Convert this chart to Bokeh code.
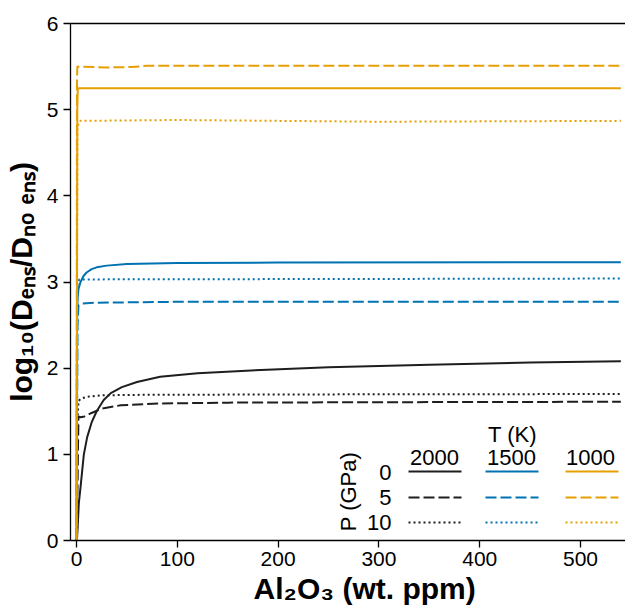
import math
from bokeh.plotting import figure
from bokeh.models import Label, LinearAxis, FixedTicker, Range1d
from bokeh.embed import file_html
from bokeh.resources import INLINE

# ---------------- data ----------------
# T = 2000 K
x_2000_p0 = [0, 0.5, 1, 2.3, 4, 7.3, 10.6, 15, 20, 27, 34, 45, 60, 83, 120, 183, 250, 350, 450, 540]
y_2000_p0 = [0, 0.02, 0.12, 0.43, 0.62, 1.0, 1.2, 1.37, 1.5, 1.63, 1.71, 1.78, 1.84, 1.90, 1.94, 1.98, 2.01, 2.04, 2.065, 2.08]
x_2000_p5 = [0, 1, 1.5, 2, 4, 8, 15, 25, 44, 83, 150, 300, 540]
y_2000_p5 = [0, 0.6, 1.1, 1.44, 1.43, 1.44, 1.48, 1.53, 1.57, 1.59, 1.60, 1.605, 1.61]
x_2000_p10 = [0, 0.7, 1, 2, 5, 12, 25, 60, 200, 540]
y_2000_p10 = [0, 1.0, 1.4, 1.62, 1.65, 1.67, 1.685, 1.69, 1.695, 1.70]

# T = 1500 K
x_1500_p0 = [0, 0.5, 1, 2, 4, 7, 10, 15, 20, 30, 50, 100, 200, 540]
y_1500_p0 = [0, 2.5, 2.8, 2.92, 3.0, 3.07, 3.11, 3.15, 3.17, 3.19, 3.21, 3.22, 3.225, 3.23]
x_1500_p5 = [0, 1, 2, 5, 20, 100, 540]
y_1500_p5 = [0, 2.5, 2.73, 2.75, 2.76, 2.77, 2.77]
x_1500_p10 = [0, 1, 3, 540]
y_1500_p10 = [0, 3.0, 3.03, 3.04]

# T = 1000 K
x_1000_p0 = [0, 0.8, 1.3, 540]
y_1000_p0 = [0, 5.0, 5.25, 5.25]
x_1000_p5 = [0, 0.5, 0.8, 30, 55, 70, 540]
y_1000_p5 = [0, 5.3, 5.5, 5.49, 5.495, 5.51, 5.51]
x_1000_p10 = [0, 1, 3, 100, 300, 540]
y_1000_p10 = [0, 4.8, 4.87, 4.88, 4.86, 4.87]

temps = ["2000", "1500", "1000"]
pressures = ["0", "5", "10"]
x_ticks = [0, 100, 200, 300, 400, 500]
y_ticks = [0, 1, 2, 3, 4, 5, 6]
x_title = "Al\u2082O\u2083 (wt. ppm)"
y_title = "log\u2081\u2080(D\u2091\u2099\u209b/D\u2099\u2092 \u2091\u2099\u209b)"

# ---------------- styles / layout ----------------
COLORS = {"2000": "#1e1e1e", "1500": "#0072B2", "1000": "#E69F00"}
DASHES = {"0": "solid", "5": "11 4", "10": "2 3"}
LW = 2

X_MIN, X_MAX = -5.95, 544.6
Y_MIN, Y_MAX = 0, 6
# frame edges in picture pixels
FL, FR, FT, FB = 70, 625, 23, 540
W_FIG, H_FIG = 625, 610

def dx(px):
    return X_MIN + (px - FL) * (X_MAX - X_MIN) / (FR - FL)

def dy(py):
    return Y_MAX - (py - FT) * (Y_MAX - Y_MIN) / (FB - FT)

FONT = "Liberation Sans"

p = figure(width=W_FIG, height=H_FIG,
           x_range=Range1d(X_MIN, X_MAX), y_range=Range1d(Y_MIN, Y_MAX),
           output_backend="svg", toolbar_location=None,
           min_border_left=FL, min_border_right=W_FIG - FR,
           min_border_top=FT, min_border_bottom=H_FIG - FB)
p.grid.visible = False
p.outline_line_color = None
p.background_fill_color = "white"
p.border_fill_color = "white"

for ax in (p.xaxis[0], p.yaxis[0]):
    ax.axis_line_width = 1.3
    ax.axis_line_color = "black"
    ax.major_tick_line_width = 1.3
    ax.major_tick_line_color = "black"
    ax.major_tick_out = 7
    ax.major_tick_in = 0
    ax.minor_tick_line_color = None
    ax.major_label_text_font = FONT
    ax.major_label_text_font_size = "21px"
    ax.major_label_text_color = "black"
    ax.axis_label_text_font = FONT
    ax.axis_label_text_font_size = "30px"
    ax.axis_label_text_font_style = "bold"
    ax.axis_label_text_color = "black"
p.xaxis.ticker = FixedTicker(ticks=x_ticks)
p.yaxis.ticker = FixedTicker(ticks=y_ticks)
p.xaxis.major_label_standoff = 4
p.yaxis.major_label_standoff = 5
# the reference's axes continue beyond the cropped right edge, so its title sits right of centre
p.xaxis.axis_label = "\u00a0" * 4 + x_title
p.xaxis.axis_label_standoff = 3
p.yaxis.axis_label = y_title
p.yaxis.axis_label_standoff = 6

top = LinearAxis(ticker=FixedTicker(ticks=[]), axis_line_width=1.3, axis_line_color="black",
                 major_tick_line_color=None, minor_tick_line_color=None,
                 major_label_text_font_size="0px")
p.add_layout(top, "above")

series = {
    ("2000", "0"): (x_2000_p0, y_2000_p0),
    ("2000", "5"): (x_2000_p5, y_2000_p5),
    ("2000", "10"): (x_2000_p10, y_2000_p10),
    ("1500", "0"): (x_1500_p0, y_1500_p0),
    ("1500", "5"): (x_1500_p5, y_1500_p5),
    ("1500", "10"): (x_1500_p10, y_1500_p10),
    ("1000", "0"): (x_1000_p0, y_1000_p0),
    ("1000", "5"): (x_1000_p5, y_1000_p5),
    ("1000", "10"): (x_1000_p10, y_1000_p10),
}
for (t, pr), (xs, ys) in series.items():
    p.line(xs, ys, line_color=COLORS[t], line_width=LW, line_dash=DASHES[pr])

# ---------------- legend table ----------------
def add_text(text, px, py, size="22px", align="center", angle=0):
    p.add_layout(Label(x=dx(px), y=dy(py), text=text, text_font=FONT, text_font_size=size,
                       text_align=align, text_baseline="middle", angle=angle,
                       text_color="black"))

add_text("T (K)", 512, 434)
col_centers = {"2000": 434, "1500": 511, "1000": 590}
col_lines = {"2000": (408, 461), "1500": (485, 538), "1000": (565, 618)}
row_mid = {"0": 472, "5": 497, "10": 522}
row_line = {"0": 471, "5": 497, "10": 522}
for t in temps:
    add_text(t, col_centers[t], 456.5)
for pr in pressures:
    add_text(pr, 391, row_mid[pr], align="right")
add_text("P (GPa)", 348, 491, angle=math.pi / 2)
for t in temps:
    for pr in pressures:
        x0, x1 = col_lines[t]
        yl = row_line[pr]
        p.line([dx(x0), dx(x1)], [dy(yl), dy(yl)], line_color=COLORS[t], line_width=LW,
               line_dash=DASHES[pr])

open("out.html", "w").write(file_html(p, INLINE))
